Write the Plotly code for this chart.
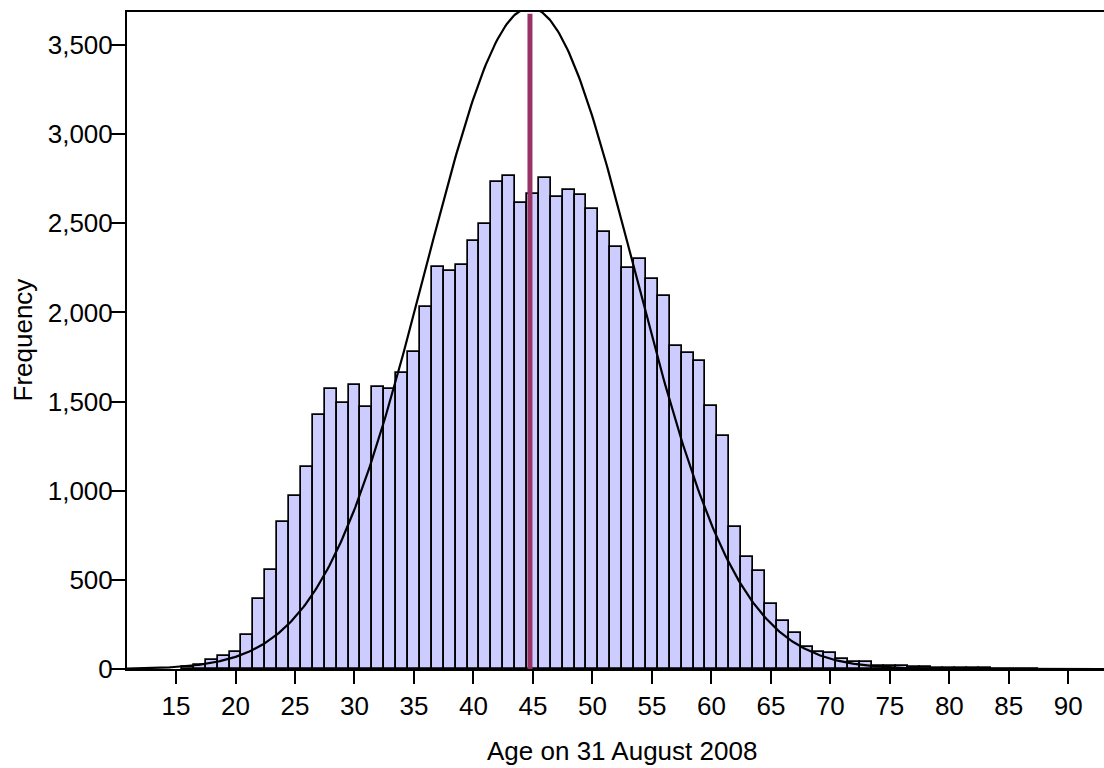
import numpy as np
import plotly.graph_objects as go

# Age (years, one bin per year) and number of people in each bin
ages = list(range(16, 88))
counts = [
    10, 22, 50, 75, 95, 189, 391, 554, 823, 972,          # 16-25
    1135, 1426, 1570, 1490, 1593, 1469, 1582, 1570, 1660, 1776,  # 26-35
    2033, 2254, 2235, 2265, 2403, 2497, 2731, 2763, 2615, 2662,  # 36-45
    2754, 2649, 2685, 2658, 2580, 2453, 2366, 2249, 2299, 2185,  # 46-55
    2094, 1809, 1772, 1729, 1477, 1309, 798, 630, 550, 366,      # 56-65
    272, 200, 121, 94, 88, 58, 41, 39, 15, 19,                   # 66-75
    15, 11, 9, 6, 5, 4, 3, 3, 2, 2,                              # 76-85
    2, 1,                                                        # 86-87
]

# Summary statistics used for the normal overlay and the mean marker
mean_age = 44.75
sd_age = 8.75
n_total = sum(counts)

x_ticks = list(range(15, 95, 5))
y_ticks = list(range(0, 4000, 500))

x_range = [10.88, 93.0]
y_range = [0, 3685]

x_title = "Age on 31 August 2008"
y_title = "Frequency"

bar_fill = "#CCCCFF"
mean_colour = "#993366"
font_family = "Liberation Sans, Arial, sans-serif"

# Normal curve scaled to counts per one-year bin
xs = np.linspace(x_range[0], x_range[1], 600)
ys = n_total / (sd_age * np.sqrt(2 * np.pi)) * np.exp(-0.5 * ((xs - mean_age) / sd_age) ** 2)

fig = go.Figure()
fig.add_trace(go.Bar(
    x=ages, y=counts, width=1.0,
    marker=dict(color=bar_fill, line=dict(color="black", width=1.7)),
    hoverinfo="x+y",
))
fig.add_trace(go.Scatter(
    x=xs, y=ys, mode="lines",
    line=dict(color="black", width=2.2),
    hoverinfo="skip",
))

# Mean marker
fig.add_shape(
    type="line", xref="x", yref="y",
    x0=mean_age, x1=mean_age, y0=0, y1=y_range[1] - 10,
    line=dict(color=mean_colour, width=5),
    layer="above",
)

# Axis titles placed as annotations
fig.add_annotation(
    text=x_title, xref="paper", yref="paper", x=0, y=0,
    xanchor="center", yanchor="middle", xshift=495, yshift=-82,
    showarrow=False, font=dict(size=26),
)
fig.add_annotation(
    text=y_title, xref="paper", yref="paper", x=0, y=0.5,
    xanchor="center", yanchor="middle", xshift=-105, textangle=-90,
    showarrow=False, font=dict(size=26),
)

fig.update_layout(
    width=1104, height=768,
    margin=dict(l=127, r=0, t=12, b=99),
    paper_bgcolor="white", plot_bgcolor="white",
    showlegend=False,
    bargap=0,
    font=dict(family=font_family, color="black", size=26),
    xaxis=dict(
        range=x_range,
        tickmode="array", tickvals=x_ticks,
        ticks="outside", ticklen=13, tickwidth=2, tickcolor="black",
        showline=True, linecolor="black", linewidth=2, mirror=True,
        showgrid=False, zeroline=False,
        tickfont=dict(size=26),
    ),
    yaxis=dict(
        range=y_range,
        tickmode="array", tickvals=y_ticks,
        tickformat=",d",
        ticks="outside", ticklen=15, tickwidth=2, tickcolor="black",
        ticklabelstandoff=-8,
        showline=True, linecolor="black", linewidth=2,
        showgrid=False, zeroline=False,
        tickfont=dict(size=26),
    ),
)

fig.write_html("out.html")
